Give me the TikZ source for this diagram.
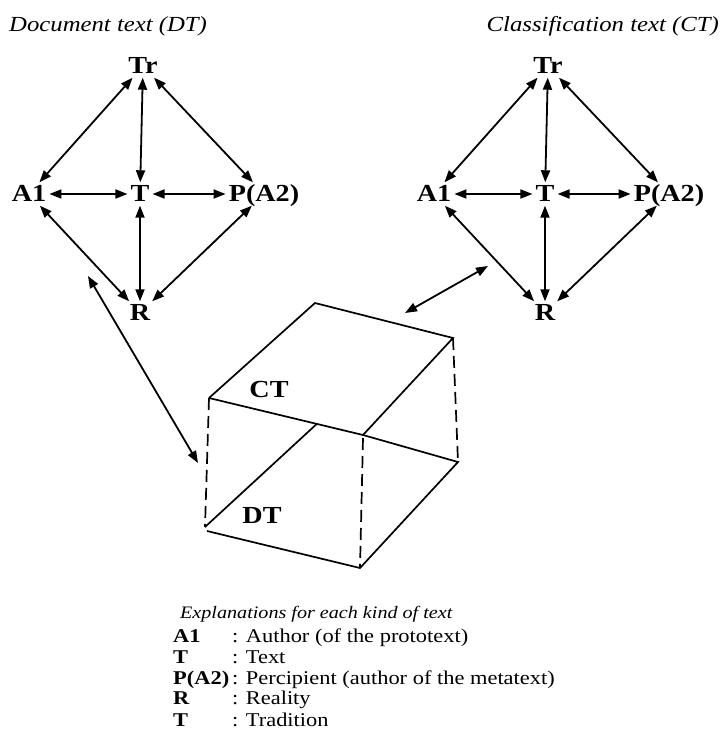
\documentclass[tikz,border=0pt]{standalone}
\usepackage{fontspec}
\setmainfont{Liberation Serif}[FakeStretch=1.15]
\usetikzlibrary{arrows.meta,calc}

\begin{document}
\begin{tikzpicture}[x=1pt,y=-1pt,
  lbl/.style={font=\fontsize{24.5}{26}\selectfont\bfseries,inner sep=3pt,text height=16pt,text depth=1pt},
  link/.style={line width=1.8pt,{Triangle[length=12pt,width=9pt]}-{Triangle[length=12pt,width=9pt]}},
  edge/.style={line width=1.7pt},
  hid/.style={line width=1.7pt,dash pattern=on 12pt off 6pt},
  ttl/.style={font=\fontsize{21.5}{24}\selectfont\itshape,inner sep=0pt},
  key/.style={font=\fontsize{19.5}{21}\selectfont,anchor=base west,inner sep=0pt}]
  \useasboundingbox (0,0) rectangle (721,751);
  \node[ttl,anchor=west] (dtitle) at (9,26) {Document text (DT)};
  \node[ttl,anchor=east] (ctitle) at (719,26) {Classification text (CT)};
  % the two text models
  \foreach \p/\x in {d/140,c/545}{
    \node[lbl] (\p Tr) at (\x+3,66) {Tr};
    \node[lbl] (\p T)  at (\x,194) {T};
    \node[lbl] (\p A)  at (\x-111,194) {A1};
    \node[lbl] (\p P)  at (\x+124,194) {P(A2)};
    \node[lbl] (\p R)  at (\x,313) {R};
    \foreach \a/\b in {Tr/A,Tr/T,Tr/P,A/T,T/P,A/R,T/R,P/R}
      \draw[link] (\p\a) -- (\p\b);
  }
  % box of the two texts
  \coordinate (TL) at (209,398);
  \coordinate (TB) at (315,303);
  \coordinate (TR) at (453,338);
  \coordinate (TF) at (363,435);
  \coordinate (BL) at (205,527);
  \coordinate (BF) at (360,568);
  \coordinate (BR) at (458,462);
  \draw[edge] (TL) -- (TB) -- (TR) -- (TF);
  \draw[edge] (TL) -- (TF) -- (BR) -- (BF) -- ($(BL)+(2,4)$);
  \draw[edge] (BL) -- ($(TL)!0.7!(TF)$);
  \draw[hid] (TL) -- (BL);
  \draw[hid] ($(TF)+(0,3)$) -- (BF);
  \draw[hid] (TR) -- (BR);
  \node[lbl] (ct) at (269,390) {CT};
  \node[lbl] (dt) at (262,516) {DT};
  \coordinate (lfttop) at (88,276);
  \coordinate (lftbot) at (198,463);
  \draw[link] (lfttop) -- (lftbot);
  \coordinate (rgtbot) at (405,313);
  \coordinate (rgttop) at (488,266);
  \draw[link] (rgtbot) -- (rgttop);
  % legend
  \node[key,font=\fontsize{17.5}{20}\selectfont\itshape] (expl) at (180,618) {Explanations for each kind of text};
  \foreach \y/\k/\v in {642/A1/Author (of the prototext), 663/T/Text,
                        684/P(A2)/Percipient (author of the metatext), 704/R/Reality, 726/T/Tradition}{
    \node[key,font=\fontsize{19.5}{21}\selectfont\bfseries] (k\y) at (173,\y) {\k};
    \node[key] (v\y) at (232,\y) {: \v};
  }
\end{tikzpicture}
\end{document}
